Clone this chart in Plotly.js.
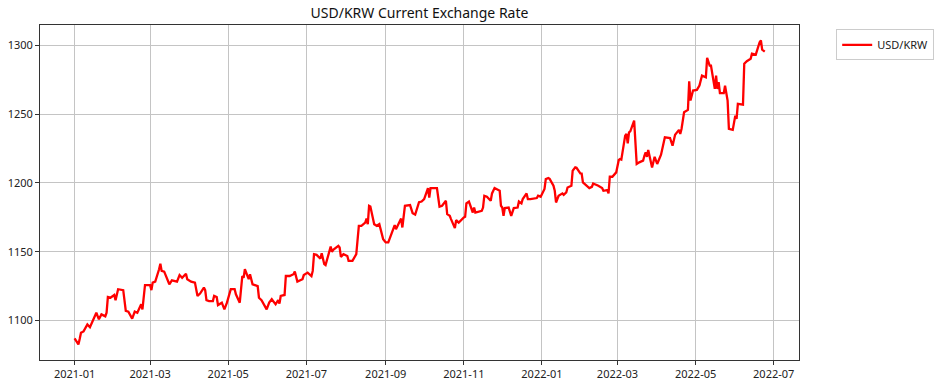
<!DOCTYPE html>
<html>
<head>
<meta charset="utf-8">
<script src="https://cdn.plot.ly/plotly-3.0.1.min.js"></script>
<style>html,body{margin:0;padding:0;background:#fff;}#chart{width:938px;height:386px;}</style>
</head>
<body>
<div id="chart"></div>
<script>
const seriesName = "USD/KRW";
const chartTitle = "USD/KRW Current Exchange Rate";
const dates = [
"2021-01-01","2021-01-04","2021-01-05","2021-01-06","2021-01-08","2021-01-11","2021-01-13","2021-01-15","2021-01-18","2021-01-20",
"2021-01-22","2021-01-25","2021-01-26","2021-01-27","2021-01-29","2021-02-01","2021-02-02","2021-02-04","2021-02-08","2021-02-10",
"2021-02-12","2021-02-15","2021-02-17","2021-02-19","2021-02-22","2021-02-23","2021-02-25","2021-03-01","2021-03-02","2021-03-03",
"2021-03-05","2021-03-08","2021-03-09","2021-03-10","2021-03-12","2021-03-16","2021-03-18","2021-03-22","2021-03-24","2021-03-26",
"2021-03-29","2021-03-30","2021-04-02","2021-04-05","2021-04-07","2021-04-09","2021-04-12","2021-04-13","2021-04-14","2021-04-16",
"2021-04-19","2021-04-20","2021-04-22","2021-04-23","2021-04-26","2021-04-28","2021-04-30","2021-05-03","2021-05-06","2021-05-07",
"2021-05-10","2021-05-12","2021-05-13","2021-05-14","2021-05-17","2021-05-18","2021-05-20","2021-05-24","2021-05-25","2021-05-27",
"2021-05-31","2021-06-02","2021-06-04","2021-06-07","2021-06-09","2021-06-10","2021-06-11","2021-06-14","2021-06-15","2021-06-18",
"2021-06-21","2021-06-22","2021-06-24","2021-06-28","2021-06-29","2021-07-02","2021-07-05","2021-07-06","2021-07-07","2021-07-09",
"2021-07-12","2021-07-13","2021-07-15","2021-07-16","2021-07-19","2021-07-20","2021-07-21","2021-07-22","2021-07-26","2021-07-27",
"2021-07-28","2021-07-30","2021-08-02","2021-08-03","2021-08-06","2021-08-09","2021-08-11","2021-08-13","2021-08-16","2021-08-17",
"2021-08-18","2021-08-19","2021-08-20","2021-08-23","2021-08-25","2021-08-27","2021-08-30","2021-09-01","2021-09-03","2021-09-06",
"2021-09-08","2021-09-09","2021-09-13","2021-09-14","2021-09-16","2021-09-20","2021-09-22","2021-09-24","2021-09-27","2021-09-29",
"2021-10-01","2021-10-04","2021-10-05","2021-10-06","2021-10-11","2021-10-12","2021-10-13","2021-10-15","2021-10-18","2021-10-19",
"2021-10-21","2021-10-22","2021-10-25","2021-10-26","2021-10-28","2021-11-01","2021-11-02","2021-11-03","2021-11-05","2021-11-08",
"2021-11-09","2021-11-10","2021-11-12","2021-11-15","2021-11-16","2021-11-17","2021-11-19","2021-11-22","2021-11-23","2021-11-25",
"2021-11-29","2021-11-30","2021-12-01","2021-12-02","2021-12-03","2021-12-06","2021-12-08","2021-12-10","2021-12-13","2021-12-14",
"2021-12-16","2021-12-17","2021-12-20","2021-12-21","2021-12-23","2021-12-27","2021-12-28","2021-12-29","2021-12-31","2022-01-03",
"2022-01-04","2022-01-06","2022-01-07","2022-01-10","2022-01-11","2022-01-12","2022-01-13","2022-01-14","2022-01-17","2022-01-18",
"2022-01-20","2022-01-21","2022-01-24","2022-01-25","2022-01-27","2022-01-28","2022-01-31","2022-02-01","2022-02-02","2022-02-04",
"2022-02-07","2022-02-09","2022-02-10","2022-02-14","2022-02-15","2022-02-17","2022-02-18","2022-02-21","2022-02-22","2022-02-23",
"2022-02-25","2022-02-28","2022-03-02","2022-03-03","2022-03-04","2022-03-07","2022-03-08","2022-03-09","2022-03-10","2022-03-11",
"2022-03-14","2022-03-15","2022-03-16","2022-03-18","2022-03-21","2022-03-22","2022-03-23","2022-03-24","2022-03-25","2022-03-28",
"2022-03-30","2022-04-01","2022-04-04","2022-04-07","2022-04-11","2022-04-13","2022-04-15","2022-04-18","2022-04-19","2022-04-20",
"2022-04-22","2022-04-25","2022-04-26","2022-04-27","2022-04-29","2022-05-02","2022-05-04","2022-05-06","2022-05-09","2022-05-10",
"2022-05-12","2022-05-13","2022-05-16","2022-05-17","2022-05-18","2022-05-19","2022-05-20","2022-05-23","2022-05-24","2022-05-26",
"2022-05-27","2022-05-30","2022-06-01","2022-06-02","2022-06-03","2022-06-07","2022-06-08","2022-06-10","2022-06-13","2022-06-14",
"2022-06-16","2022-06-17","2022-06-20","2022-06-21","2022-06-22","2022-06-23","2022-06-24"
];
const rates = [
1087,1082.5,1086.5,1091,1092,1097,1095,1099,1105.6,1100.8,
1104.4,1103,1105.6,1117,1116.5,1118.5,1114.7,1122.7,1122,1107,
1106.4,1101.3,1106.4,1105.6,1111.7,1108,1125.6,1125.6,1122,1127.5,
1128.2,1137.2,1141.3,1136,1135.5,1126.3,1129.2,1128.2,1133,1131,
1134,1130,1128.2,1127.5,1117.8,1119.5,1123.9,1122,1114.7,1114.1,
1114.1,1117.8,1117,1111.2,1112.9,1108,1112.9,1122.7,1122.7,1119,
1112.9,1132.3,1131,1137.2,1130,1133.6,1126.3,1125,1116.5,1114.7,
1108,1112.9,1115.4,1111.7,1114.7,1112.2,1117.8,1118.5,1132.3,1132.3,
1133.6,1135.5,1128.2,1130,1133,1134.8,1132.3,1136,1148.2,1147.7,
1145,1148.9,1140.9,1140.2,1150.6,1153.7,1149.9,1151.3,1154.2,1153,
1146.2,1148.2,1146.9,1143.3,1143.3,1148.2,1168.8,1168.8,1171.2,1174.1,
1170,1183.4,1182.9,1170,1168.8,1170,1159.1,1156.7,1156.7,1163.5,
1169.3,1166.4,1174.1,1167.6,1183.4,1183.9,1178,1177,1186,1186.5,
1188.3,1196.3,1189.4,1196.3,1196.3,1189.4,1182.7,1183.4,1187,1177.3,
1176.1,1173.7,1167.1,1173,1171.2,1174.9,1175.4,1185.1,1186.5,1178.5,
1182.1,1178.5,1179,1179.7,1182.1,1190.7,1190,1187,1192.4,1196.3,
1194.3,1183.4,1182.1,1176.1,1181.7,1182.1,1176.1,1181.7,1182.1,1186.5,
1185.1,1188.3,1192.4,1188.3,1188.3,1189,1189,1190.7,1190,1195.6,
1202.8,1203.6,1203,1198,1194.3,1185.8,1188.3,1190.7,1192.4,1191.4,
1193.1,1196.7,1198,1208.9,1211.3,1211,1207,1206.9,1200.4,1198.7,
1196.3,1197.2,1199.6,1198,1197.2,1196.3,1194.3,1194.8,1192.4,1204.5,
1204.5,1207.7,1216.7,1217.4,1217,1234.4,1235.6,1228.8,1236.8,1237.5,
1245.3,1230.8,1213.8,1215,1216.2,1219.8,1222.2,1219,1224,1211.3,
1219,1213.8,1220.6,1233.2,1232.7,1227.1,1235.1,1238.6,1235.6,1239.3,
1251.4,1253.1,1274,1260,1267.2,1267.7,1270.8,1278.1,1276.9,1291,
1285.4,1285.4,1268.4,1278.1,1268.4,1273.3,1265.3,1265.3,1270.8,1259.9,
1239.3,1238.6,1249,1246.6,1257.5,1257,1286.7,1288.6,1290.3,1294,
1293.4,1293.4,1302.4,1303.6,1296.9,1295.8,1295.5
];
const yTicks = [1100, 1150, 1200, 1250, 1300];

const font = "'Noto Sans', 'DejaVu Sans', sans-serif";
const trace = {
  x: dates, y: rates, type: 'scatter', mode: 'lines', name: seriesName,
  line: {color: '#ff0000', width: 2.3}
};
const layout = {
  width: 938, height: 386,
  margin: {l: 40, r: 139, t: 24.5, b: 26, pad: 0, autoexpand: false},
  paper_bgcolor: '#ffffff', plot_bgcolor: '#ffffff',
  font: {family: font, size: 11, color: '#222'},
  title: {text: chartTitle, font: {family: font, size: 14, color: '#111'}, x: 0.5, xref: 'paper', y: 0.966, yanchor: 'middle'},
  showlegend: true,
  legend: {x: 1.049, y: 0.987, xanchor: 'left', yanchor: 'top', bgcolor: '#fff', bordercolor: '#cccccc', borderwidth: 1, font: {size: 11, color: '#222'}, itemwidth: 30},
  xaxis: {
    type: 'date', range: ['2020-12-05', '2022-07-20 18:00'],
    tick0: '2021-01-01', dtick: 'M2', tickformat: '%Y-%m',
    showgrid: true, gridcolor: '#c4c4c4', gridwidth: 1,
    showline: true, linecolor: '#333', linewidth: 1, mirror: true,
    ticks: 'outside', ticklen: 4, tickcolor: '#333', zeroline: false,
    tickfont: {size: 11, color: '#222'}
  },
  yaxis: {
    range: [1071.2, 1314.9], tickvals: yTicks, ticktext: yTicks.map(String),
    showgrid: true, gridcolor: '#c4c4c4', gridwidth: 1,
    showline: true, linecolor: '#333', linewidth: 1, mirror: true,
    ticks: 'outside', ticklen: 4, tickcolor: '#333', zeroline: false,
    tickfont: {size: 11, color: '#222'}
  }
};
Plotly.newPlot('chart', [trace], layout, {displayModeBar: false, staticPlot: true});
</script>
</body>
</html>
